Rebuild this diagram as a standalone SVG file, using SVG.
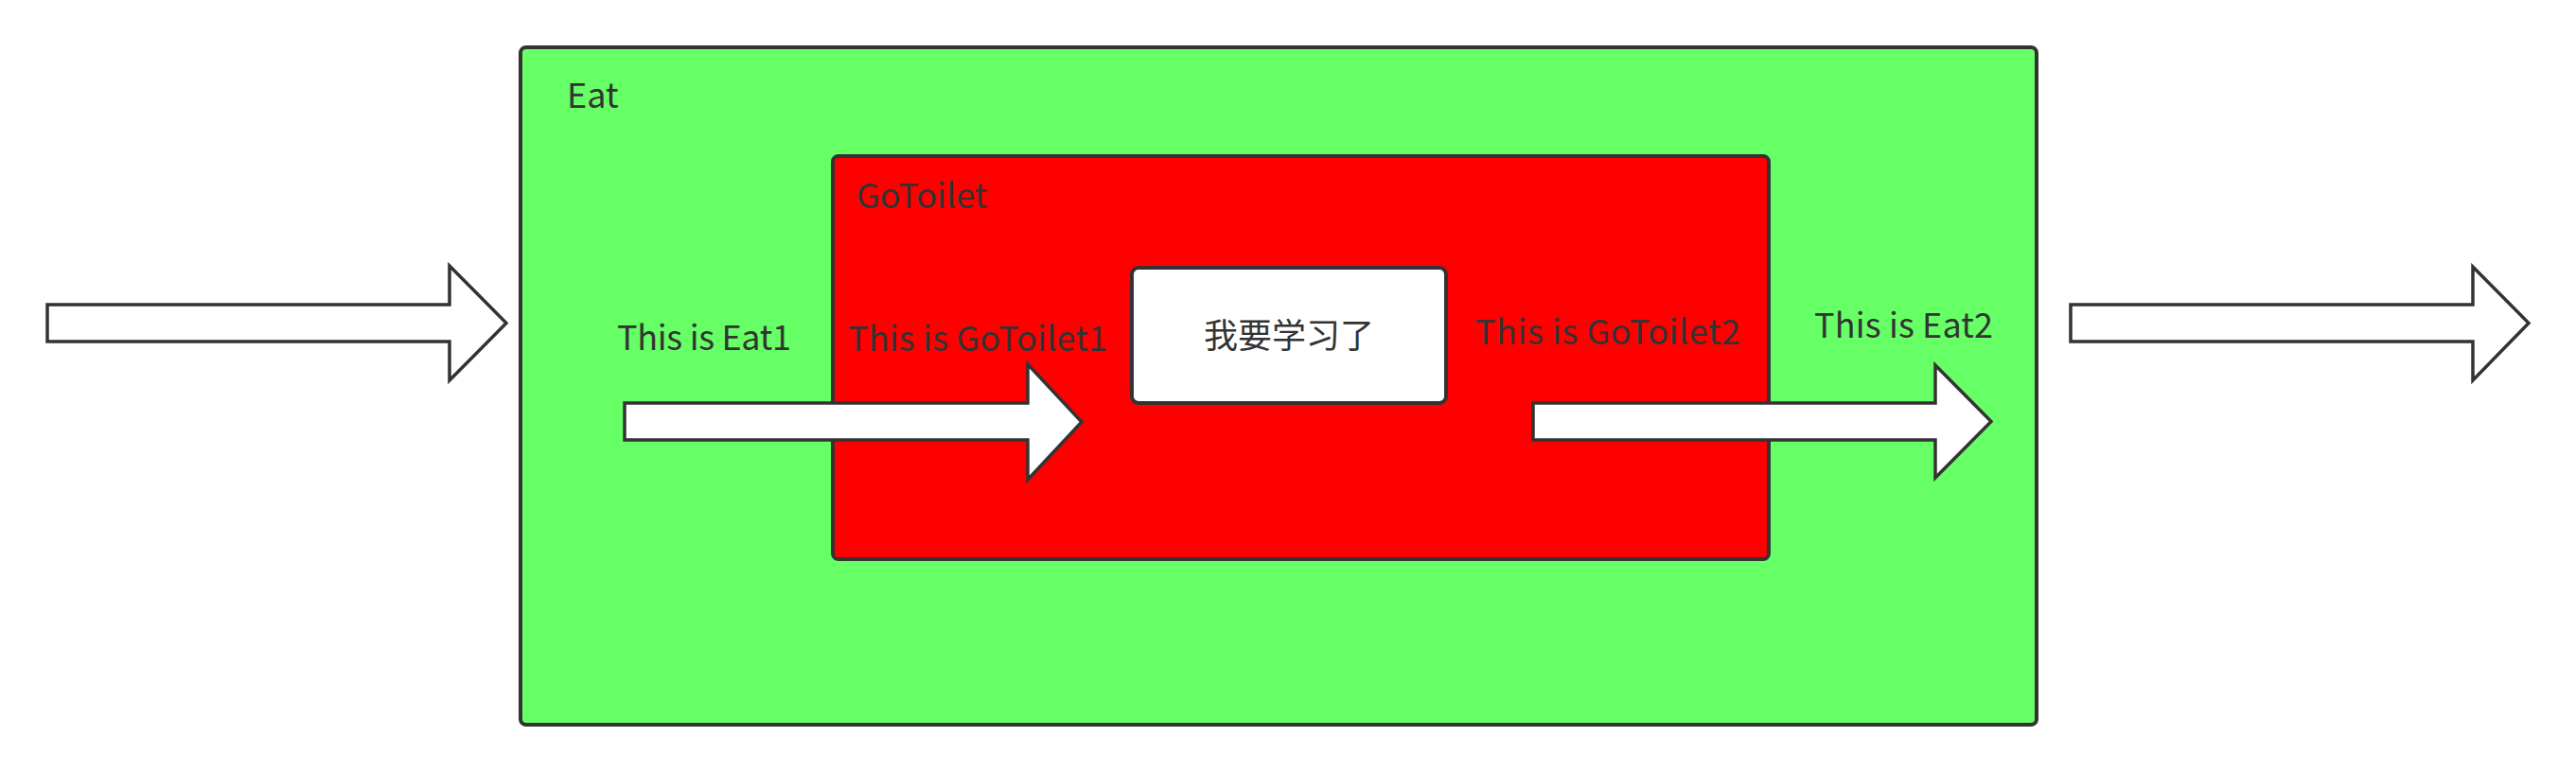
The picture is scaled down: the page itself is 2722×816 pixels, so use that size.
<svg xmlns="http://www.w3.org/2000/svg" width="2722" height="816" viewBox="0 0 2722 816">
<style>
.box{stroke:#333333;stroke-width:4}
.lbl{font-family:"Noto Sans CJK SC","Liberation Sans",sans-serif;font-size:36px;fill:#333333}
.cn{font-family:"Noto Sans CJK SC","Liberation Sans",sans-serif;font-size:36px;fill:#333333}
.arr{fill:#ffffff;stroke:#333333;stroke-width:3.5;stroke-linejoin:miter}
</style>
<rect width="2722" height="816" fill="#ffffff"/>
<g id="eat">
<rect class="box" x="550" y="50" width="1602" height="716" rx="6" fill="#66ff66"/>
<text class="lbl" x="599" y="114">Eat</text>
</g>
<g id="gotoilet">
<rect class="box" x="880" y="165" width="989" height="426" rx="6" fill="#ff0000"/>
<text class="lbl" x="905" y="220">GoToilet</text>
</g>
<g id="study">
<rect class="box" x="1196" y="283" width="332" height="143" rx="7" fill="#ffffff"/>
<text class="cn" x="1362" y="368" text-anchor="middle">我要学习了</text>
</g>
<g id="labels">
<text class="lbl" x="652" y="370" textLength="184">This is Eat1</text>
<text class="lbl" x="896" y="371" textLength="274">This is GoToilet1</text>
<text class="lbl" x="1559" y="364" textLength="280">This is GoToilet2</text>
<text class="lbl" x="1917" y="357" textLength="189">This is Eat2</text>
</g>
<g id="connectors">
<polygon class="arr" points="50,322 475,322 475,281 535,341.5 475,402 475,361 50,361"/>
<polygon class="arr" points="660,426 1086,426 1086,385 1143,446 1086,507 1086,465 660,465"/>
<polygon class="arr" points="1620,426 2045,426 2045,386 2104,445.5 2045,505 2045,465 1620,465"/>
<polygon class="arr" points="2188,322 2613,322 2613,282 2672,341.5 2613,402 2613,361 2188,361"/>
</g>
</svg>
